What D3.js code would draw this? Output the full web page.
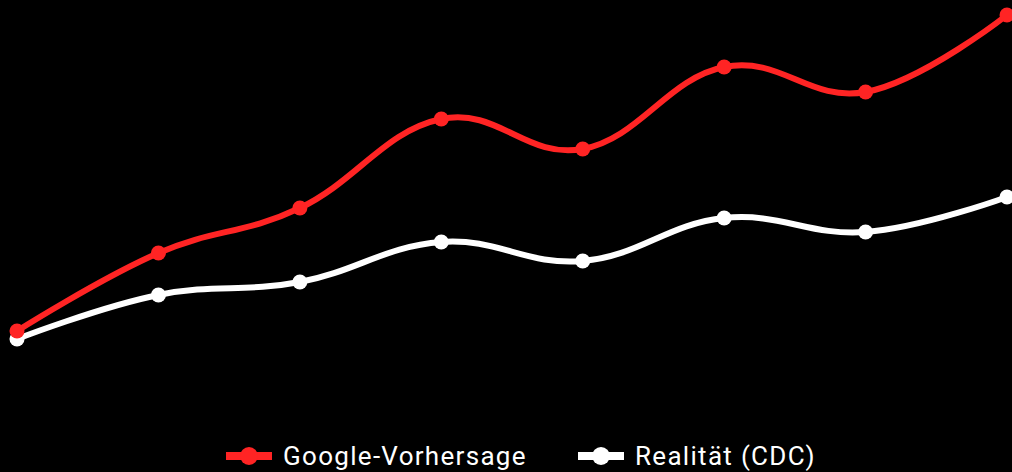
<!DOCTYPE html>
<html>
<head>
<meta charset="utf-8">
<script src="https://cdn.jsdelivr.net/npm/d3@7"></script>
<style>
  html, body { margin: 0; padding: 0; background: #000; }
  svg { display: block; }
</style>
</head>
<body>
<div id="chart"></div>
<script>
// Zeitpunkte (ohne Beschriftung im Original)
const periods = [1, 2, 3, 4, 5, 6, 7, 8];

// Werte der beiden Reihen (relative Einheiten, aus dem Bild geschätzt)
const googleValues = [17.5, 37, 48.25, 70.5, 63, 83.5, 77.25, 96.5];
const cdcValues = [15.5, 26.5, 29.75, 39.75, 35, 45.75, 42.25, 51];

const seriesNames = ["Google-Vorhersage", "Realität (CDC)"];
const seriesColors = ["#ff2424", "#ffffff"];

const width = 1012;
const height = 472;

const svg = d3.select("#chart")
    .append("svg")
    .attr("width", width)
    .attr("height", height);

svg.append("rect")
    .attr("width", width)
    .attr("height", height)
    .attr("fill", "#000");

// Skalen
const x = d3.scalePoint()
    .domain(periods)
    .range([17, 1007]);

const y = d3.scaleLinear()
    .domain([0, 100])
    .range([401, 1]);

const line = d3.line()
    .x((d, i) => x(periods[i]))
    .y(d => y(d))
    .curve(d3.curveCardinal.tension(-0.2));

const series = [cdcValues, googleValues];
const colors = [seriesColors[1], seriesColors[0]];

series.forEach((vals, k) => {
    svg.append("path")
        .datum(vals)
        .attr("d", line)
        .attr("fill", "none")
        .attr("stroke", colors[k])
        .attr("stroke-width", 6)
        .attr("stroke-linejoin", "round");

    svg.selectAll(".dot" + k)
        .data(vals)
        .enter()
        .append("circle")
        .attr("class", "dot" + k)
        .attr("cx", (d, i) => x(periods[i]))
        .attr("cy", d => y(d))
        .attr("r", 7.5)
        .attr("fill", colors[k]);
});

// Legende
const legend = svg.append("g")
    .attr("transform", "translate(0,456)");

const legendX = [226, 578];
seriesNames.forEach((name, i) => {
    const g = legend.append("g").attr("transform", `translate(${legendX[i]},0)`);
    g.append("line")
        .attr("x1", 0).attr("x2", 46)
        .attr("y1", 0).attr("y2", 0)
        .attr("stroke", seriesColors[i])
        .attr("stroke-width", 8);
    g.append("circle")
        .attr("cx", 23).attr("cy", 0)
        .attr("r", 9)
        .attr("fill", seriesColors[i]);
    g.append("text")
        .attr("x", 57)
        .attr("y", 0)
        .attr("dy", "0.36em")
        .attr("fill", "#fff")
        .attr("font-family", "Roboto, sans-serif")
        .attr("font-size", "26px")
        .attr("letter-spacing", "1.3px")
        .text(name);
});
</script>
</body>
</html>
